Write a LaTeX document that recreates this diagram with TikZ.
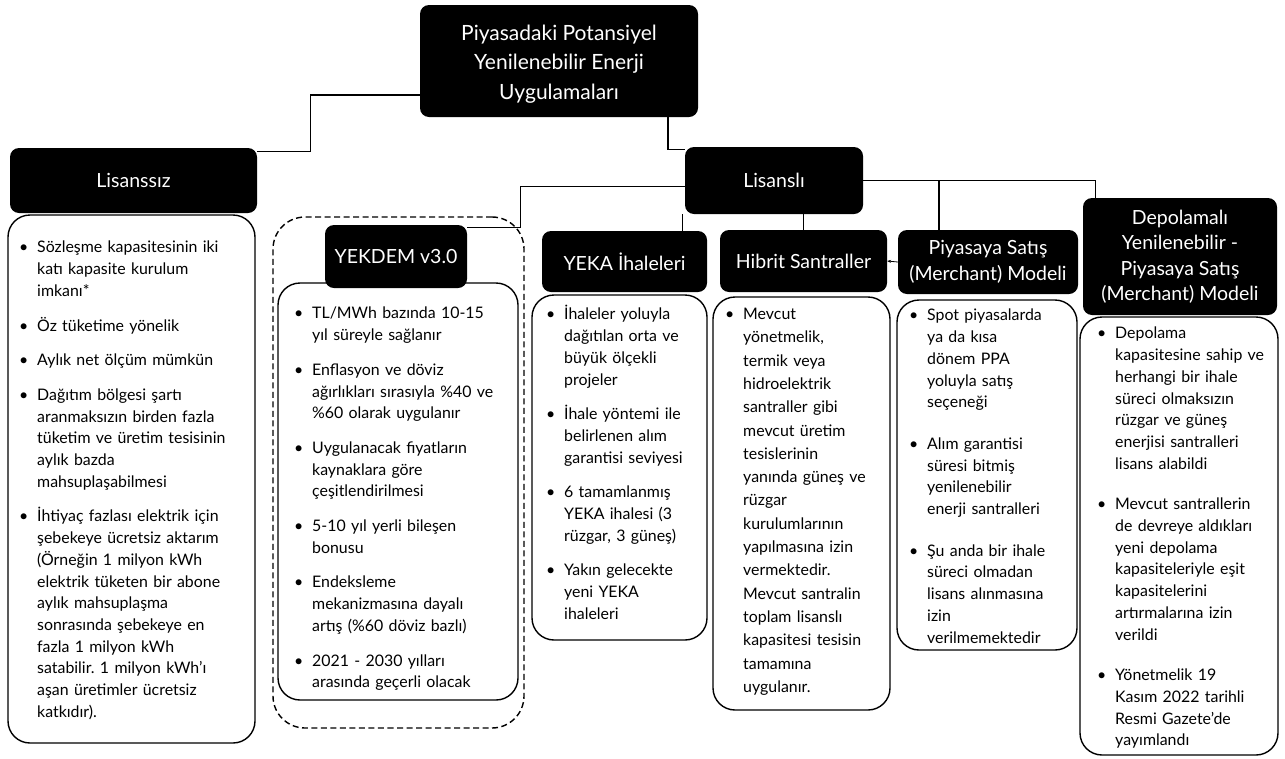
\documentclass[tikz,border=0pt]{standalone}
\usepackage{fontspec}
\setmainfont{Lato}
\frenchspacing
\usetikzlibrary{positioning,calc}
\usetikzlibrary{arrows.meta}
\tikzset{
  hd/.style={fill=black,text=white,rounded corners=9pt,align=center,inner sep=0pt,
    font=\fontsize{19.5}{25.5}\selectfont},
  bx/.style={draw=black,line width=1.4pt,rounded corners=22pt},
  dsh/.style={draw=black,line width=1.4pt,rounded corners=32pt,dash pattern=on 6pt off 3.5pt},
  conn/.style={draw=black,line width=1.3pt},
}
\tikzset{txt/.style={anchor=north west,inner sep=0pt,align=left,text width=#1,
  font=\fontsize{15.9}{21.7}\selectfont}}
\newlength{\itemgap}
\setlength{\itemgap}{13pt}
\newcommand{\bul}[1][\itemgap]{\par\vspace{#1}\hangindent=18pt\hangafter=1\noindent\makebox[18pt][l]{\textbullet}}
\newcommand{\bula}{\bul[0pt]}
\newcommand{\nl}{\newline}

\begin{document}
\begin{tikzpicture}[x=1pt,y=-1pt]
\useasboundingbox (0,0) rectangle (1285,758);
% content boxes
\node[dsh,minimum width=251,minimum height=511] (ykd-f) at (398.5,472.5) {};
\node[bx,minimum width=247,minimum height=528] (lsz-b) at (131.5,479) {};
\node[bx,minimum width=240,minimum height=417] (ykd-b) at (398,491.5) {};
\node[bx,minimum width=175,minimum height=345] (yka-b) at (619.5,467.5) {};
\node[bx,minimum width=177,minimum height=413] (hbr-b) at (801.5,503.5) {};
\node[bx,minimum width=180,minimum height=350] (pys-b) at (987,475) {};
\node[bx,minimum width=198,minimum height=438] (dep-b) at (1179,536) {};
% headers
\node[hd,minimum width=278,minimum height=112,font=\fontsize{21}{29.5}\selectfont] (root) at (559,61)
  {\rule{0pt}{21pt}Piyasadaki Potansiyel\\Yenilenebilir Enerji\\Uygulamaları};
\node[hd,minimum width=247,minimum height=65] (lsz) at (133.5,180.5) {Lisanssız};
\node[hd,minimum width=178,minimum height=67] (lsi) at (774,180.5) {Lisanslı};
\node[hd,minimum width=142,minimum height=63] (ykd) at (396,256.5) {YEKDEM v3.0};
\node[hd,minimum width=165,minimum height=61] (yka) at (624.5,261.5) {YEKA İhaleleri};
\node[hd,minimum width=167,minimum height=62] (hbr) at (803.5,261) {Hibrit Santraller};
\node[hd,minimum width=180,minimum height=64] (pys) at (988,262) {Piyasaya Satış\\(Merchant) Modeli};
\node[hd,minimum width=194,minimum height=117] (dep) at (1180,256.5)
  {Depolamalı\\Yenilenebilir -\\Piyasaya Satış\\(Merchant) Modeli};
% connectors
\draw[conn] ([yshift=-34pt]root.west) -| ([xshift=53pt,yshift=-4pt]lsz.north east) -- ([yshift=-4pt]lsz.north east);
\draw[conn] ([xshift=109pt]root.south) |- ([yshift=-3pt]lsi.north west);
\draw[conn] ([yshift=-6pt]lsi.west) -| ([xshift=53pt,yshift=-3pt]ykd.north east) -- ([yshift=-3pt]ykd.north east);
\draw[conn] ([xshift=-2pt]lsi.south west) -- ([xshift=-2pt]lsi.south west |- yka.north);
\draw[conn] (hbr.north) -- (hbr.north |- lsi.south);
\draw[conn] (lsi.east) -| ([xshift=13pt]dep.north west);
\draw[conn] ([xshift=-49pt]pys.north |- lsi.east) -- ([xshift=-49pt]pys.north);
\draw[conn,line width=0.8pt,-{Stealth[length=4pt]}] (pys.west) -- (hbr.east);
% texts
\node[txt=235pt] (lsz-t) at (19,231) {%
\bula Sözleşme kapasitesinin iki\nl katı kapasite kurulum\nl imkanı*
\bul Öz tüketime yönelik
\bul Aylık net ölçüm mümkün
\bul Dağıtım bölgesi şartı\nl aranmaksızın birden fazla\nl tüketim ve üretim tesisinin\nl aylık bazda\nl mahsuplaşabilmesi
\bul İhtiyaç fazlası elektrik için\nl şebekeye ücretsiz aktarım\nl (Örneğin 1 milyon kWh\nl elektrik tüketen bir abone\nl aylık mahsuplaşma\nl sonrasında şebekeye en\nl fazla 1 milyon kWh\nl satabilir. 1 milyon kWh'ı\nl aşan üretimler ücretsiz\nl katkıdır).\par};
\node[txt=222pt] (ykd-t) at (294,297) {%
\bula TL/MWh bazında 10-15\nl yıl süreyle sağlanır
\bul Enflasyon ve döviz\nl ağırlıkları sırasıyla \%40 ve\nl \%60 olarak uygulanır
\bul Uygulanacak fiyatların\nl kaynaklara göre\nl çeşitlendirilmesi
\bul 5-10 yıl yerli bileşen\nl bonusu
\bul Endeksleme\nl mekanizmasına dayalı\nl artış (\%60 döviz bazlı)
\bul 2021 - 2030 yılları\nl arasında geçerli olacak\par};
\node[txt=160pt] (yka-t) at (546,298) {%
\bula İhaleler yoluyla\nl dağıtılan orta ve\nl büyük ölçekli\nl projeler
\bul İhale yöntemi ile\nl belirlenen alım\nl garantisi seviyesi
\bul 6 tamamlanmış\nl YEKA ihalesi (3\nl rüzgar, 3 güneş)
\bul Yakın gelecekte\nl yeni YEKA\nl ihaleleri\par};
\node[txt=163pt,font=\fontsize{15.9}{23.3}\selectfont] (hbr-t) at (725,296) {%
\bula Mevcut\nl yönetmelik,\nl termik veya\nl hidroelektrik\nl santraller gibi\nl mevcut üretim\nl tesislerinin\nl yanında güneş ve\nl rüzgar\nl kurulumlarının\nl yapılmasına izin\nl vermektedir.\nl Mevcut santralin\nl toplam lisanslı\nl kapasitesi tesisin\nl tamamına\nl uygulanır.\par};
\node[txt=166pt] (pys-t) at (909,299) {\setlength{\itemgap}{20pt}%
\bula Spot piyasalarda\nl ya da kısa\nl dönem PPA\nl yoluyla satış\nl seçeneği
\bul Alım garantisi\nl süresi bitmiş\nl yenilenebilir\nl enerji santralleri
\bul Şu anda bir ihale\nl süreci olmadan\nl lisans alınmasına\nl izin\nl verilmemektedir\par};
\node[txt=179pt] (dep-t) at (1097,317) {\setlength{\itemgap}{19pt}%
\bula Depolama\nl kapasitesine sahip ve\nl herhangi bir  ihale\nl süreci olmaksızın\nl rüzgar ve güneş\nl enerjisi santralleri\nl lisans alabildi
\bul Mevcut santrallerin\nl de devreye aldıkları\nl yeni depolama\nl kapasiteleriyle eşit\nl kapasitelerini\nl artırmalarına izin\nl verildi
\bul Yönetmelik 19\nl Kasım 2022 tarihli\nl Resmi Gazete'de\nl yayımlandı\par};
\end{tikzpicture}
\end{document}
